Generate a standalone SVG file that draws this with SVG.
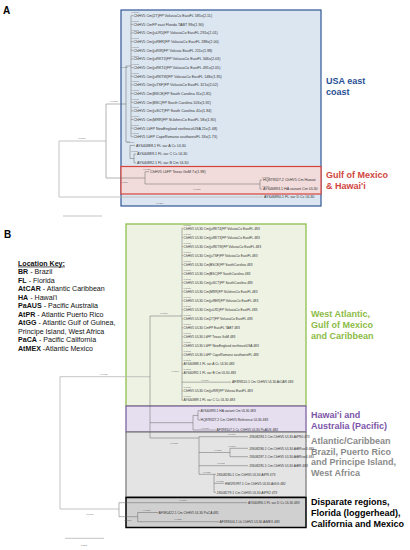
<svg xmlns="http://www.w3.org/2000/svg" width="410" height="550" viewBox="0 0 410 550">
<style>
.pl{font-family:"Liberation Sans",Arial,sans-serif;font-weight:bold;font-size:10px;fill:#000}
.cl{font-family:"Liberation Sans",Arial,sans-serif;font-weight:bold;font-size:9px}
.key{font-family:"Liberation Sans",Arial,sans-serif;font-size:7.1px;fill:#111}
.la{font-family:"Liberation Sans",Arial,sans-serif;font-size:3.7px;fill:#333}
.lb{font-family:"Liberation Sans",Arial,sans-serif;font-size:3.3px;fill:#333}
.bl{font-family:"Liberation Sans",Arial,sans-serif;font-size:2.4px;fill:#666}
.br{stroke:#666;stroke-width:0.5;fill:none}
.rt{stroke:#b5b5b5;stroke-width:0.8;fill:none}
</style>
<rect width="410" height="550" fill="#fff"/>

<!-- Panel A boxes -->
<g id="boxA-usa"><rect x="121" y="10" width="200" height="196" fill="#dce6f1" stroke="#2f5597" stroke-width="1.2"/></g>
<g id="boxA-gulf"><rect x="121" y="166.5" width="200" height="27.5" fill="#f2dcdb" stroke="#d8443c" stroke-width="1.2"/></g>

<text class="pl" x="3" y="14">A</text>
<text class="cl" x="326" y="84.2" fill="#2a4f95">USA east</text>
<text class="cl" x="326" y="94.8" fill="#2a4f95">coast</text>
<text class="cl" x="326" y="177.8" fill="#d0453d">Gulf of Mexico</text>
<text class="cl" x="326" y="188.5" fill="#d0453d">&amp; Hawai'i</text>

<!-- Panel A tree connectors -->
<g id="connectorsA">
<path class="rt" d="M59,141V197M59,141H106M59,197H263"/>
<path class="br" d="M106,104V178M106,104H126M106,178H145"/>
<path class="br" d="M126,66V142M126,66H131M131,15.7V136.7"/>
<path class="br" d="M131,15.7h2M131,24.35h2M131,33h2M131,41.65h2M131,50.3h2M131,58.95h2M131,67.6h2M131,76.25h2M131,84.9h2M131,93.55h2M131,102.2h2M131,110.85h2M131,119.5h2M131,128.15h2M131,136.8h2"/>
<path class="br" d="M126,142H130M130,145.4V158.5M130,145.4H135M130,158.5H134M134,154.1V162.8M134,154.1h2M134,162.8h2"/>
<path class="br" d="M145,171.7V184M145,171.7H149M145,184H260M260,180V189M260,180h2M260,189h2"/>
<path class="rt" d="M63,216H102"/>
</g>

<g id="labelsA">
<text class="bl" x="82" y="139" text-anchor="middle">0.0067</text>
<text class="bl" x="160" y="204" text-anchor="middle">0.0274</text>
<text class="bl" x="114" y="102" text-anchor="middle">0.0102</text>
<text class="bl" x="124" y="68" text-anchor="middle">0.0005</text>
<text class="bl" x="124" y="183" text-anchor="middle">0.0051</text>
<text class="bl" x="197" y="190" text-anchor="middle">0.0108</text>
<text class="bl" x="147" y="169.5" text-anchor="middle">0.0051</text>
<text class="bl" x="262" y="178">0.0000</text>
<text class="bl" x="262" y="187">0.0000</text>
<g class="bl">
<text x="131.5" y="13.2">0.0000</text><text x="131.5" y="21.9">0.0000</text><text x="131.5" y="30.5">0.0000</text><text x="131.5" y="39.2">0.0000</text><text x="131.5" y="47.8">0.0000</text><text x="131.5" y="56.5">0.0000</text><text x="131.5" y="65.1">0.0000</text><text x="131.5" y="73.8">0.0000</text><text x="131.5" y="82.4">0.0000</text><text x="131.5" y="91.1">0.0000</text><text x="131.5" y="99.7">0.0000</text><text x="131.5" y="108.4">0.0000</text><text x="131.5" y="117">0.0000</text><text x="131.5" y="125.7">0.0000</text><text x="131.5" y="134.3">0.0000</text><text x="127" y="143">0.0069</text><text x="131" y="152">0.0000</text>
</g>
</g>

<g id="leavesA" class="la">
<text x="133.5" y="17">ChHV5 Cm(2T)FP VolusiaCo EastFL 585x(2.11)</text>
<text x="133.5" y="25.7">ChHV5 CmFP east Florida TABT 99x(1.90)</text>
<text x="133.5" y="34.3">ChHV5 Cm(juLR5)FP VolusiaCo EastFL 291x(2.01)</text>
<text x="133.5" y="43">ChHV5 Cm(juRER)FP VolusiaCo EastFL 288x(2.00)</text>
<text x="133.5" y="51.6">ChHV5 Cm(juRIR)FP Volusia EastFL 211x(1.98)</text>
<text x="133.5" y="60.3">ChHV5 Cm(juRKT3)FP VolusiaCo EastFL 346x(2.03)</text>
<text x="133.5" y="68.9">ChHV5 Cm(juRKT4)FP VolusiaCo EastFL 491x(2.05)</text>
<text x="133.5" y="77.6">ChHV5 Cm(juRKTW)FP VolusiaCo EastFL 148x(1.95)</text>
<text x="133.5" y="86.2">ChHV5 Cm(juTSF)FP VolusiaCo EastFL 321x(2.02)</text>
<text x="133.5" y="94.9">ChHV5 Cm(BSCE)FP South Carolina 31x(1.81)</text>
<text x="133.5" y="103.5">ChHV5 Cm(BSC)FP South Carolina 103x(1.92)</text>
<text x="133.5" y="112.2">ChHV5 Cm(juSCT)FP South Carolina 41x(1.84)</text>
<text x="133.5" y="120.8">ChHV5 Cm(MRR)FP StJohnsCo EastFL 58x(1.90)</text>
<text x="133.5" y="129.5">ChHV5 LkFP NewEngland northeastUSA 21x(1.68)</text>
<text x="133.5" y="138.1">ChHV5 LkFP CapeRomano southwestFL 33x(1.73)</text>
<text x="136" y="146.7">AY640888.1 FL var A Cc UL30</text>
<text x="137" y="155.4">AY640889.1 FL var C Cc UL30</text>
<text x="137" y="164.1">AY640892.1 FL var B Cm UL30</text>
<text x="150" y="173">ChHV5 LkFP Texas GoM 7x(1.98)</text>
<text x="263" y="181.3">HQ878327.2 ChHV5 Cm Hawaii</text>
<text x="263" y="190.3">AY646893.1 HA variant Cm UL30</text>
<text x="264" y="198.3">AY646890.1 FL var D Cc UL30</text>
</g>

<!-- Panel B -->
<text class="pl" x="4" y="238">B</text>
<g id="key" class="key">
<text x="18" y="265.6" font-weight="bold" text-decoration="underline">Location Key:</text>
<text x="18" y="274.1"><tspan font-weight="bold">BR</tspan> - Brazil</text>
<text x="18" y="282.6"><tspan font-weight="bold">FL</tspan> - Florida</text>
<text x="18" y="291.1"><tspan font-weight="bold">AtCAR</tspan> - Atlantic Caribbean</text>
<text x="18" y="299.6"><tspan font-weight="bold">HA</tspan> - Hawai'i</text>
<text x="18" y="308.1"><tspan font-weight="bold">PaAUS</tspan> - Pacific Australia</text>
<text x="18" y="316.6"><tspan font-weight="bold">AtPR</tspan> - Atlantic Puerto Rico</text>
<text x="18" y="325.1"><tspan font-weight="bold">AtGG</tspan> - Atlantic Gulf of Guinea,</text>
<text x="18" y="333.6">Principe Island, West Africa</text>
<text x="18" y="342.1"><tspan font-weight="bold">PaCA</tspan> - Pacific California</text>
<text x="18" y="350.6"><tspan font-weight="bold">AtMEX</tspan> -Atlantic Mexico</text>
</g>

<g id="boxB-west"><rect x="126" y="224" width="180" height="182" fill="#eef2e3" stroke="#8fbf4d" stroke-width="1.3"/></g>
<g id="boxB-pacific"><rect x="126" y="406" width="180" height="26" fill="#e5dff0" stroke="#8064a2" stroke-width="1.3"/></g>
<g id="boxB-atlantic"><rect x="126" y="432" width="180" height="65" fill="#e4e4e4" stroke="#808080" stroke-width="1.3"/></g>
<g id="boxB-disparate"><rect x="126" y="497.5" width="180" height="30" fill="#d0d0d0" stroke="#000" stroke-width="1.5"/></g>

<text class="cl" x="311" y="317.2" fill="#8cbb46">West Atlantic,</text>
<text class="cl" x="311" y="327.9" fill="#8cbb46">Gulf of Mexico</text>
<text class="cl" x="311" y="338.6" fill="#8cbb46">and Caribbean</text>
<text class="cl" x="311" y="418.2" fill="#7c55a8">Hawai'i and</text>
<text class="cl" x="311" y="428.9" fill="#7c55a8">Australia (Pacific)</text>
<text class="cl" x="311" y="443.8" fill="#8a8a8a">Atlantic/Caribbean</text>
<text class="cl" x="311" y="454.5" fill="#8a8a8a">Brazil, Puerto Rico</text>
<text class="cl" x="311" y="465.2" fill="#8a8a8a">and Principe Island,</text>
<text class="cl" x="311" y="475.9" fill="#8a8a8a">West Africa</text>
<text class="cl" x="311" y="505.2" fill="#000">Disparate regions,</text>
<text class="cl" x="311" y="515.9" fill="#000">Florida (loggerhead),</text>
<text class="cl" x="311" y="526.6" fill="#000">California and Mexico</text>

<g id="connectorsB">
<path class="rt" d="M60,376.7V509M60,376.7H150M60,509H119"/>
<path class="br" d="M150,316V438M150,316H182M182,228.3V400.3"/>
<path class="br" d="M182,228.3h1M182,237.35h1M182,246.4h1M182,255.45h1M182,264.5h1M182,273.55h1M182,282.6h1M182,291.65h1M182,300.7h1M182,309.75h1M182,318.8h1M182,327.85h1M182,336.9h1M182,345.95h1M182,355h1M182,364.05h1M182,373.1h1M182,382.15H231M182,391.2h1M182,400.25h1"/>
<path class="br" d="M150,422.7H193M193,415.4V430M193,415.4H198M198,410.7V420M198,410.7h2M198,420h2M193,430H216"/>
<path class="br" d="M150,438H199M199,436.7V474.3M199,436.7H248M199,452.5H230M230,448.3V456.7M230,448.3H248M230,456.7H248M199,465.7H248M199,474.3H214M214,474.3V492.3M214,474.3h2M214,483.3H224M214,492.3h2"/>
<path class="br" d="M119,502.7V516.7M119,502.7H247M119,516.7H137.7M137.7,512.5V521.7M137.7,512.5H158M137.7,521.7H219"/>
<path class="rt" d="M65,538.3H104"/>
</g>

<g id="labelsB" class="bl">
<text x="104" y="374.5" text-anchor="middle">0.0410</text>
<text x="90" y="514.5" text-anchor="middle">0.0476</text>
<text x="164" y="314" text-anchor="middle">0.0034</text>
<text x="174" y="443.5" text-anchor="middle">0.0062</text>
<text x="179" y="372" text-anchor="end">0.0009</text>
<text x="205" y="380.5" text-anchor="middle">0.0060</text>
<text x="205" y="428.5" text-anchor="middle">0.0063</text>
<text x="232" y="435" text-anchor="middle">0.0069</text>
<text x="218" y="451" text-anchor="middle">0.0031</text>
<text x="232" y="446.5" text-anchor="middle">0.0000</text>
<text x="221" y="464" text-anchor="middle">0.0062</text>
<text x="207" y="472.5" text-anchor="middle">0.0021</text>
<text x="220" y="482" text-anchor="middle">0.0020</text>
<text x="183" y="501" text-anchor="middle">0.0186</text>
<text x="128" y="521" text-anchor="middle">0.0024</text>
<text x="147" y="511" text-anchor="middle">0.0029</text>
<text x="178" y="520.2" text-anchor="middle">0.0325</text>
<text x="84" y="545.5" text-anchor="middle">0.050</text>
<text x="183.5" y="225.5">0.0000</text><text x="183.5" y="234.5">0.0000</text><text x="183.5" y="243.6">0.0000</text><text x="183.5" y="252.6">0.0000</text><text x="183.5" y="261.7">0.0000</text><text x="183.5" y="270.7">0.0000</text><text x="183.5" y="279.8">0.0000</text><text x="183.5" y="288.8">0.0000</text><text x="183.5" y="297.9">0.0000</text><text x="183.5" y="306.9">0.0000</text><text x="183.5" y="316">0.0000</text><text x="183.5" y="325">0.0000</text><text x="183.5" y="334.1">0.0000</text><text x="183.5" y="343.1">0.0000</text><text x="183.5" y="352.2">0.0000</text><text x="183.5" y="361.2">0.0000</text><text x="183.5" y="370.3">0.0000</text><text x="183.5" y="388.4">0.0000</text><text x="183.5" y="397.4">0.0000</text>
</g>

<g id="leavesB" class="lb">
<text x="183.5" y="229.5">ChHV5 UL30 Cm(juRKT4)FP VolusiaCo EastFL 483</text>
<text x="183.5" y="238.5">ChHV5 UL30 Cm(juRKT3)FP VolusiaCo EastFL 483</text>
<text x="183.5" y="247.6">ChHV5 UL30 Cm(juRKTW)FP VolusiaCo EastFL 483</text>
<text x="183.5" y="256.6">ChHV5 UL30 Cm(juTSF)FP VolusiaCo EastFL 483</text>
<text x="183.5" y="265.7">ChHV5 UL30 Cm(BSCE)FP SouthCarolina 483</text>
<text x="183.5" y="274.7">ChHV5 UL30 Cm(BSC)FP SouthCarolina 483</text>
<text x="183.5" y="283.8">ChHV5 UL30 Cm(juSCT)FP SouthCarolina 483</text>
<text x="183.5" y="292.8">ChHV5 UL30 Cm(MRR)FP StJohnsCo EastFL 483</text>
<text x="183.5" y="301.9">ChHV5 UL30 Cm(juRER)FP VolusiaCo EastFL 483</text>
<text x="183.5" y="310.9">ChHV5 UL30 Cm(juLR5)FP VolusiaCo EastFL 483</text>
<text x="183.5" y="320">ChHV5 UL30 Cm(2T)FP VolusiaCo EastFL 483</text>
<text x="183.5" y="329">ChHV5 UL30 CmFP EastFL TABT 483</text>
<text x="183.5" y="338.1">ChHV5 UL30 LkFP Texas GoM 483</text>
<text x="183.5" y="347.1">ChHV5 UL30 LkFP NewEngland northeastUSA 483</text>
<text x="183.5" y="356.2">ChHV5 UL30 LkFP CapeRomano southwestFL 483</text>
<text x="183.5" y="365.2">AY640888.1 FL var A Cc UL30 483</text>
<text x="183.5" y="374.3">AY640892.1 FL var B Cm UL30 483</text>
<text x="232" y="383.3">AF398110.1 Cm ChHV5 UL30 AtCAR 483</text>
<text x="183.5" y="392.4">ChHV5 UL30 Cm(juRIR)FP Volusia EastFL 483</text>
<text x="183.5" y="401.4">AY640889.1 FL var C Cc UL30 483</text>
<text x="200.5" y="411.9">AY640893.1 HA variant Cm UL30 483</text>
<text x="200.5" y="421.2">HQ878327.2 Cm ChHV5 Reference UL30 483</text>
<text x="216.5" y="431.2">AF398107.1 Cc ChHV5 UL30 PaAUS 483</text>
<text x="249" y="437.9">JX608283.1 Cm ChHV5 UL30 AtPR0 473</text>
<text x="249" y="449.5">JX608286.1 Cm ChHV5 UL30 AtBRive3 483</text>
<text x="249" y="457.9">JX608287.1 Cm ChHV5 UL30 AtBRive4 483</text>
<text x="249" y="466.9">JX608285.1 Cm ChHV5 UL30 AtBR 483</text>
<text x="216.5" y="475.5">JX608280.1 Cm ChHV5 UL30 AtPR 473</text>
<text x="225" y="484.5">HM195997.1 Cm ChHV5 UL30 AtGG 482</text>
<text x="216.5" y="493.5">JX608279.1 Cm ChHV5 UL30 AtPR2 473</text>
<text x="248" y="503.9">AY640890.1 FL var D Cc UL30 483</text>
<text x="158.5" y="513.7">AF380422.1 Cm ChHV5 UL30 PaCA 481</text>
<text x="219.5" y="522.9">AF398106.1 Lk ChHV5 UL30 AtMEX 483</text>
</g>
</svg>
